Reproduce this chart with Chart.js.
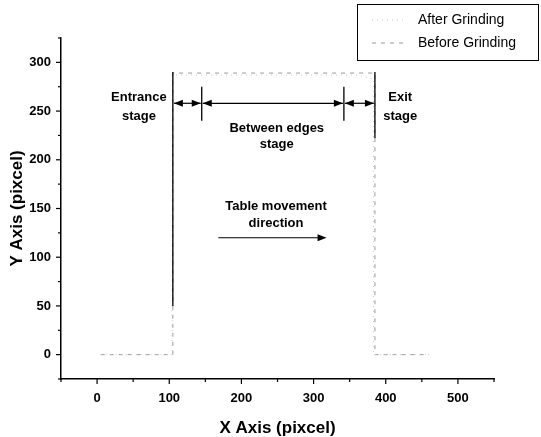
<!DOCTYPE html>
<html>
<head>
<meta charset="utf-8">
<script src="https://cdn.jsdelivr.net/npm/chart.js@4/dist/chart.umd.min.js"></script>
<style>
  html, body { margin:0; padding:0; background:#fff; }
  #wrap { width:541px; height:437px; position:relative; }
</style>
</head>
<body>
<div id="wrap"><canvas id="profileChart"></canvas></div>
<script>
// ── Data ───────────────────────────────────────
const seriesNames = ['After Grinding', 'Before Grinding'];
const afterX  = [5, 104, 104, 360, 383, 383, 458];
const afterY  = [0, 0, 287, 287, 283, 0, 0];
const beforeX = [5, 105, 105, 385, 385, 460];
const beforeY = [0, 0, 289, 289, 0, 0];

const xTicks = [0, 100, 200, 300, 400, 500];
const yTicks = [0, 50, 100, 150, 200, 250, 300];

// stage boundaries (x) and the span of each marker line (y)
const stageX      = [105, 145, 342, 385];
const stageTop    = [290, 275, 275, 290];
const stageBottom = [50, 240, 240, 222];
const stageArrowY = 258;

const notes = [
  { lines:['Entrance','stage'],       x: 58,  y: 264, dy: -19 },
  { lines:['Between edges','stage'],  x: 249, y: 232, dy: -16 },
  { lines:['Exit','stage'],           x: 420, y: 264, dy: -19 },
  { lines:['Table movement','direction'], x: 248, y: 152, dy: -17 },
];
const moveArrowX = [168, 318];
const moveArrowY = 120;

const pts = (xs, ys) => xs.map((x, i) => ({ x, y: ys[i] }));

// ── Helpers ────────────────────────────────────
function arrowHead(ctx, x, y, dir) {
  ctx.beginPath();
  ctx.moveTo(x, y);
  ctx.lineTo(x - dir * 9, y - 3.5);
  ctx.lineTo(x - dir * 9, y + 3.5);
  ctx.closePath();
  ctx.fill();
}

const overlay = {
  id: 'overlay',
  afterDraw(chart) {
    const { ctx, scales: { x, y } } = chart;
    ctx.save();
    ctx.strokeStyle = '#000';
    ctx.fillStyle = '#000';

    // custom tick marks (major / minor)
    ctx.lineWidth = 1.2;
    for (let v = -50; v <= 550; v += 50) {
      const px = x.getPixelForValue(v), len = v % 100 === 0 ? 5 : 3;
      ctx.beginPath(); ctx.moveTo(px, y.bottom); ctx.lineTo(px, y.bottom + len); ctx.stroke();
    }
    for (let v = -25; v <= 325; v += 25) {
      const py = y.getPixelForValue(v), len = v % 50 === 0 ? 5 : 3;
      ctx.beginPath(); ctx.moveTo(x.left, py); ctx.lineTo(x.left - len, py); ctx.stroke();
    }

    // stage marker lines
    ctx.lineWidth = 1.3;
    stageX.forEach((sx, i) => {
      const px = x.getPixelForValue(sx);
      ctx.beginPath();
      ctx.moveTo(px, y.getPixelForValue(stageTop[i]));
      ctx.lineTo(px, y.getPixelForValue(stageBottom[i]));
      ctx.stroke();
    });

    // double arrows between stage lines
    const ay = y.getPixelForValue(stageArrowY);
    for (let i = 0; i < stageX.length - 1; i++) {
      const a = x.getPixelForValue(stageX[i]) + 1, b = x.getPixelForValue(stageX[i + 1]) - 1;
      ctx.lineWidth = 1.2;
      ctx.beginPath(); ctx.moveTo(a, ay); ctx.lineTo(b, ay); ctx.stroke();
      arrowHead(ctx, a, ay, -1);
      arrowHead(ctx, b, ay, 1);
    }

    // table movement arrow
    const m0 = x.getPixelForValue(moveArrowX[0]), m1 = x.getPixelForValue(moveArrowX[1]);
    const my = y.getPixelForValue(moveArrowY);
    ctx.lineWidth = 1.2;
    ctx.beginPath(); ctx.moveTo(m0, my); ctx.lineTo(m1 - 6, my); ctx.stroke();
    arrowHead(ctx, m1, my, 1);

    // notes
    ctx.font = 'bold 13px "Liberation Sans", Arial, sans-serif';
    ctx.textAlign = 'center';
    ctx.textBaseline = 'middle';
    notes.forEach(n => {
      const px = x.getPixelForValue(n.x);
      const py = y.getPixelForValue(n.y);
      n.lines.forEach((t, k) => ctx.fillText(t, px, py - n.dy * k));
    });

    // legend box
    ctx.lineWidth = 1;
    ctx.strokeRect(357.5, 4.5, 181, 56);
    ctx.font = '14px "Liberation Sans", Arial, sans-serif';
    ctx.textAlign = 'left';
    chart.data.datasets.forEach((ds, i) => {
      const ly = 20 + i * 23;
      ctx.strokeStyle = ds.borderColor;
      ctx.lineWidth = ds.borderWidth;
      ctx.setLineDash(ds.borderDash || []);
      ctx.beginPath(); ctx.moveTo(372, ly); ctx.lineTo(404, ly); ctx.stroke();
      ctx.setLineDash([]);
      ctx.fillStyle = '#000';
      ctx.fillText(ds.label, 418, ly);
    });
    ctx.restore();
  }
};

// ── Chart ──────────────────────────────────────
new Chart(document.getElementById('profileChart'), {
  type: 'scatter',
  data: {
    datasets: [
      { label: seriesNames[0], data: pts(afterX, afterY), showLine: true,
        borderColor: '#c8c8c8', borderWidth: 1, borderDash: [1, 4], pointRadius: 0 },
      { label: seriesNames[1], data: pts(beforeX, beforeY), showLine: true,
        borderColor: '#9a9a9a', borderWidth: 1, borderDash: [4, 5], pointRadius: 0 },
    ]
  },
  options: {
    responsive: true,
    maintainAspectRatio: false,
    animation: false,
    layout: { padding: { left: 0, top: 38, right: 47, bottom: 0 } },
    plugins: { legend: { display: false }, tooltip: { enabled: false } },
    scales: {
      x: {
        type: 'linear', min: -50, max: 550,
        afterFit: s => { s.height = 58; },
        grid: { display: false },
        border: { display: true, color: '#000', width: 1.5 },
        ticks: {
          stepSize: 50, padding: 4, color: '#000', maxRotation: 0, autoSkip: false,
          font: { family: '"Liberation Sans", Arial, sans-serif', size: 13, weight: 'bold' },
          callback: v => xTicks.includes(v) ? v : ''
        },
        title: {
          display: true, text: 'X Axis (pixcel)', color: '#000',
          padding: { top: 6, bottom: 0 },
          font: { family: '"Liberation Sans", Arial, sans-serif', size: 17, weight: 'bold', lineHeight: 1 }
        }
      },
      y: {
        type: 'linear', min: -25, max: 325,
        afterFit: s => { s.width = 61; },
        grid: { display: false },
        border: { display: true, color: '#000', width: 1.5 },
        ticks: {
          stepSize: 25, padding: 2, color: '#000', autoSkip: false,
          font: { family: '"Liberation Sans", Arial, sans-serif', size: 13, weight: 'bold' },
          callback: v => yTicks.includes(v) ? v : ''
        },
        title: {
          display: true, text: 'Y Axis (pixcel)', color: '#000',
          padding: { top: 9, bottom: 0 },
          font: { family: '"Liberation Sans", Arial, sans-serif', size: 17, weight: 'bold', lineHeight: 1 }
        }
      }
    }
  },
  plugins: [overlay]
});
</script>
</body>
</html>
